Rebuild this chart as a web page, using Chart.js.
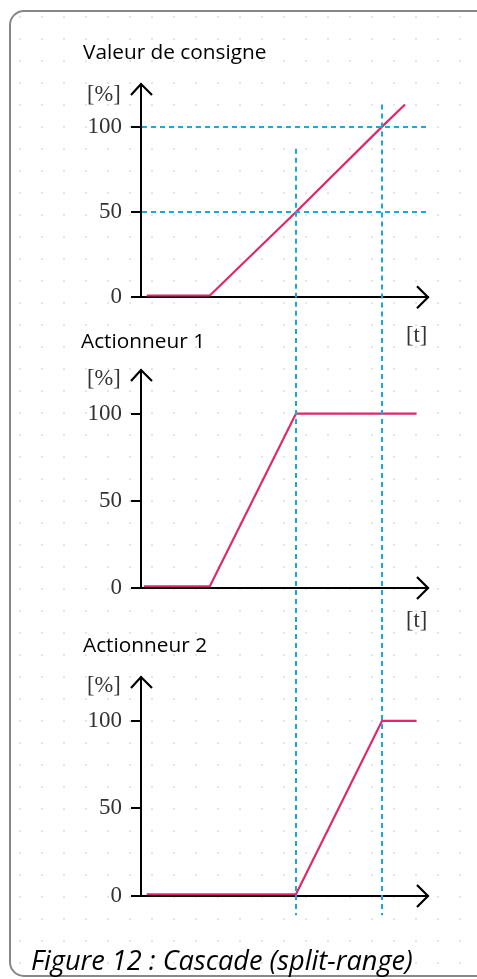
<!DOCTYPE html>
<html>
<head>
<meta charset="utf-8">
<script src="https://cdn.jsdelivr.net/npm/chart.js@4"></script>
<style>
  html, body { margin: 0; padding: 0; background: #fff; }
  body { width: 477px; height: 979px; position: relative; overflow: hidden; }
  #frame {
    position: absolute; left: 9px; top: 10px; width: 500px; height: 963px;
    border: 2.5px solid #878787; border-radius: 15px;
    background-image: radial-gradient(circle, #e6e6e6 0.9px, transparent 1.3px);
    background-size: 22px 22px; background-position: -2px 16px;
  }
  canvas { position: absolute; left: 0; }
  .title { position: absolute; font-family: "Open Sans", sans-serif; font-size: 20.8px; line-height: 1; color: #000; white-space: nowrap; }
  .unit { position: absolute; font-family: "Liberation Serif", serif; font-size: 22.5px; line-height: 1; color: #333; }
  #caption { position: absolute; left: 31px; top: 946px; font-family: "Open Sans", sans-serif; font-style: italic; font-size: 24px; line-height: 1; color: #000; white-space: nowrap; }
</style>
</head>
<body>
<div id="frame"></div>
<canvas id="chartSetpoint" width="477" height="320" style="top:0px"></canvas>
<canvas id="chartAct1" width="477" height="305" style="top:320px"></canvas>
<canvas id="chartAct2" width="477" height="354" style="top:625px"></canvas>

<div class="title" style="left:83px; top:41px">Valeur de consigne</div>
<div class="unit" style="left:87px; top:83px">[%]</div>
<div class="unit" style="left:406px; top:324px">[t]</div>

<div class="title" style="left:81px; top:330px">Actionneur 1</div>
<div class="unit" style="left:87px; top:367px">[%]</div>
<div class="unit" style="left:406px; top:609px">[t]</div>

<div class="title" style="left:83px; top:634px">Actionneur 2</div>
<div class="unit" style="left:87px; top:674px">[%]</div>

<div id="caption">Figure 12 : Cascade (split-range)</div>

<script>
// Setpoint (valeur de consigne) over time
const timeSetpoint = [2, 24, 54, 84, 92];
const setpointValues = [1, 1, 50, 100, 113];

// Actuator 1 (first half of the range)
const timeAct1 = [1, 24, 54, 96];
const act1Values = [1, 1, 100, 100];

// Actuator 2 (second half of the range)
const timeAct2 = [2, 54, 84, 96];
const act2Values = [1, 1, 100, 100];

// Axis ticks and guide lines
const yTickValues = [0, 50, 100];
const splitTimes = [54, 84];
const setpointLevels = [50, 100];
const timeRange = [0, 100];
const percentRange = [0, 125];

const lineColor = '#e2266b';
const guideColor = '#1ba6dc';

// Caption width in the reference is about 382px, fit the font size to it
const caption = document.getElementById('caption');
const measureCtx = document.createElement('canvas').getContext('2d');
measureCtx.font = 'italic 24px "Open Sans"';
const captionWidth = measureCtx.measureText(caption.textContent).width;
caption.style.fontSize = (24 * 382 / captionWidth).toFixed(2) + 'px';

// Draws dashed guides and axis arrows
const guidesPlugin = {
    id: 'guides',
    afterDatasetsDraw(chart, args, opts) {
        const ctx = chart.ctx;
        const area = chart.chartArea;
        const x = chart.scales.x;
        const y = chart.scales.y;

        ctx.save();
        ctx.strokeStyle = guideColor;
        ctx.lineWidth = 2;
        ctx.setLineDash([5, 4]);

        (opts.levels || []).forEach(v => {
            const py = Math.round(y.getPixelForValue(v));
            ctx.beginPath();
            ctx.moveTo(area.left + 1, py);
            ctx.lineTo(area.right, py);
            ctx.stroke();
        });

        opts.times.forEach((t, i) => {
            const px = Math.round(x.getPixelForValue(t));
            const top = opts.from ? y.getPixelForValue(opts.from[i]) : 0;
            const bottom = opts.to != null ? y.getPixelForValue(opts.to) : chart.height;
            ctx.beginPath();
            ctx.moveTo(px, top);
            ctx.lineTo(px, bottom);
            ctx.stroke();
        });

        // arrows at the end of both axes
        ctx.setLineDash([]);
        ctx.strokeStyle = '#000';
        ctx.lineWidth = 2.2;
        ctx.beginPath();
        ctx.moveTo(area.left - 10, area.top + 11);
        ctx.lineTo(area.left, area.top);
        ctx.lineTo(area.left + 11, area.top + 11);
        ctx.moveTo(area.right - 11, area.bottom - 11);
        ctx.lineTo(area.right, area.bottom);
        ctx.lineTo(area.right - 11, area.bottom + 11);
        ctx.stroke();
        ctx.restore();
    }
};

function makeChart(canvasId, times, values, padTop, padBottom, guides) {
    const points = times.map((t, i) => ({ x: t, y: values[i] }));
    return new Chart(document.getElementById(canvasId), {
        type: 'line',
        data: {
            datasets: [{
                data: points,
                borderColor: lineColor,
                borderWidth: 2.2,
                pointRadius: 0,
                tension: 0,
                fill: false
            }]
        },
        options: {
            responsive: false,
            animation: false,
            layout: { padding: { left: 0, right: 49, top: padTop, bottom: padBottom } },
            plugins: {
                legend: { display: false },
                tooltip: { enabled: false },
                guides: guides
            },
            scales: {
                x: {
                    type: 'linear',
                    min: timeRange[0],
                    max: timeRange[1],
                    grid: { display: false },
                    ticks: { display: false },
                    border: { display: true, color: '#000', width: 2 },
                    afterFit: s => { s.height = 0; }
                },
                y: {
                    type: 'linear',
                    min: percentRange[0],
                    max: percentRange[1],
                    afterBuildTicks: s => { s.ticks = yTickValues.map(v => ({ value: v })); },
                    afterFit: s => { s.width = 141; },
                    grid: {
                        display: true,
                        drawOnChartArea: false,
                        drawTicks: true,
                        tickLength: 10,
                        color: '#000',
                        lineWidth: 2
                    },
                    border: { display: true, color: '#000', width: 2 },
                    ticks: {
                        padding: 9,
                        color: '#333',
                        font: { family: 'Liberation Serif', size: 23 }
                    }
                }
            }
        },
        plugins: [guidesPlugin]
    });
}

makeChart('chartSetpoint', timeSetpoint, setpointValues, 84, 17,
    { times: splitTimes, from: [87, 113], to: null, levels: setpointLevels });
makeChart('chartAct1', timeAct1, act1Values, 50, 37,
    { times: splitTimes, from: null, to: null, levels: [] });
makeChart('chartAct2', timeAct2, act2Values, 52, 83,
    { times: splitTimes, from: null, to: -11, levels: [] });
</script>
</body>
</html>
